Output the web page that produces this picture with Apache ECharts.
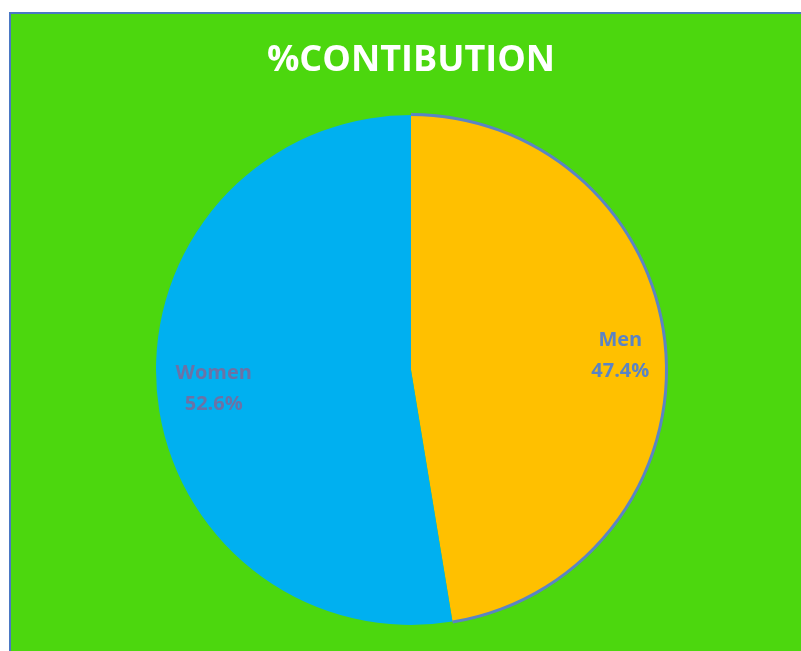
<!DOCTYPE html>
<html><head><meta charset="utf-8">
<script src="https://cdn.jsdelivr.net/npm/echarts@6/dist/echarts.min.js"></script>
<style>html,body{margin:0;padding:0;background:#fff}#c{width:801px;height:651px}</style>
</head><body><div id="c"></div>
<script>
const titleText = '%CONTIBUTION';
const categories = ['Men', 'Women'];
const values = [47.4, 52.6];
const colors = ['#FFC000', '#00B0F0'];
const labelColors = ['#5B84C4', '#6B72A6'];
const labelOffsets = [[-1, 3], [13, 2]];

const chart = echarts.init(document.getElementById('c'));
const cx = 411, cy = 370, R = 255;
chart.setOption({
  backgroundColor: '#ffffff',
  animation: false,
  graphic: [{
    type: 'rect', z: -10,
    shape: { x: 10, y: 13, width: 900, height: 800 },
    style: { fill: '#4CD70E', stroke: '#4A78C4', lineWidth: 2 }
  }],
  title: {
    text: titleText, left: 406, top: 38, textAlign: 'center',
    textStyle: { color: '#ffffff', fontFamily: 'Open Sans', fontWeight: 'bold', fontSize: 36 }
  },
  series: [
    {
      type: 'pie', center: [cx, cy], radius: [0, R], startAngle: 90, clockwise: true,
      label: { show: false }, labelLine: { show: false }, silent: true,
      data: categories.map((c, i) => ({ name: c, value: values[i], itemStyle: { color: colors[i], borderWidth: 0 } }))
    },
    {
      type: 'pie', center: [cx, cy], radius: [R - 1, R + 2], startAngle: 90, clockwise: true,
      label: { show: false }, labelLine: { show: false }, silent: true,
      data: categories.map((c, i) => ({ name: c, value: values[i], itemStyle: { color: i === 0 ? '#5B84C4' : 'rgba(0,0,0,0)' } }))
    },
    {
      type: 'pie', center: [cx, cy], radius: [200, 216], startAngle: 90, clockwise: true, silent: true,
      itemStyle: { color: 'rgba(0,0,0,0)' },
      labelLine: { show: false },
      data: categories.map((c, i) => ({
        name: c, value: values[i],
        label: {
          show: true, position: 'inside', offset: labelOffsets[i],
          formatter: '{b}\n{d}%',
          color: labelColors[i], fontFamily: 'Open Sans', fontWeight: 'bold', fontSize: 20, lineHeight: 31
        }
      }))
    }
  ]
});
</script></body></html>
